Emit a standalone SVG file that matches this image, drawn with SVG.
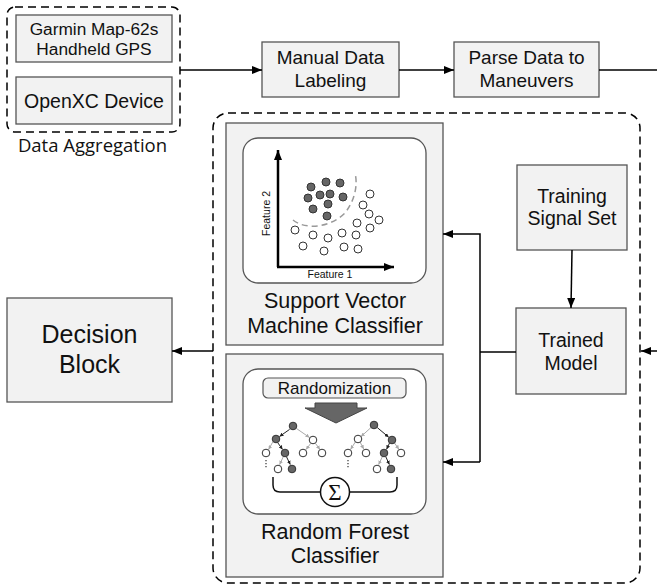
<svg xmlns="http://www.w3.org/2000/svg" width="657" height="586" viewBox="0 0 657 586">
<defs>
<style>
.box{fill:#f2f2f2;stroke:#555;stroke-width:1.3}
.inner{fill:#fff;stroke:#555;stroke-width:1.3}
.dash{fill:none;stroke:#000;stroke-width:1.5;stroke-dasharray:8,5}
.t{font-family:"Liberation Sans",Arial,sans-serif;fill:#111;text-anchor:middle}
.con{fill:none;stroke:#000;stroke-width:1.5}
.dk{fill:#666;stroke:#333;stroke-width:1}
.wt{fill:#fff;stroke:#333;stroke-width:1}
.eg{stroke:#aaa;stroke-width:1}
.ed{stroke:#222;stroke-width:1}
</style>
<marker id="ah" markerWidth="10" markerHeight="8" refX="10" refY="4" orient="auto" markerUnits="userSpaceOnUse"><path d="M0,0 L10,4 L0,8 Z" fill="#000"/></marker>
<marker id="ahg" markerWidth="4" markerHeight="4" refX="4" refY="2" orient="auto" markerUnits="userSpaceOnUse"><path d="M0,0 L4,2 L0,4 Z" fill="#aaa"/></marker>
<marker id="ahd" markerWidth="4" markerHeight="4" refX="4" refY="2" orient="auto" markerUnits="userSpaceOnUse"><path d="M0,0 L4,2 L0,4 Z" fill="#222"/></marker>
</defs>
<rect width="657" height="586" fill="#fff"/>

<g id="data-aggregation">
<rect class="dash" x="7" y="7" width="173" height="125" rx="8"/>
<text x="92.5" y="152" style="font-family:'Open Sans','Noto Sans',sans-serif;font-size:18.5px;fill:#111;text-anchor:middle">Data Aggregation</text>
</g>
<g id="garmin">
<rect class="box" x="16" y="15" width="156" height="47"/>
<text class="t" x="94" y="35" font-size="17.3">Garmin Map-62s</text>
<text class="t" x="94" y="55" font-size="17.3">Handheld GPS</text>
</g>
<g id="openxc">
<rect class="box" x="16" y="77" width="156" height="47"/>
<text class="t" x="94" y="108" font-size="19.5">OpenXC Device</text>
</g>
<g id="manual-labeling">
<rect class="box" x="262" y="42" width="137" height="55"/>
<text class="t" x="330.5" y="64" font-size="19">Manual Data</text>
<text class="t" x="330.5" y="87" font-size="19">Labeling</text>
</g>
<g id="parse-data">
<rect class="box" x="454" y="42" width="145" height="55"/>
<text class="t" x="526.5" y="64" font-size="19">Parse Data to</text>
<text class="t" x="526.5" y="87" font-size="19">Maneuvers</text>
</g>

<g id="classifier-group">
<rect class="dash" x="213" y="113" width="427" height="470" rx="15"/>
</g>

<g id="svm">
<rect class="box" x="226" y="123" width="217" height="222"/>
<rect class="inner" x="243" y="138" width="183" height="145" rx="15"/>
<path d="M293,220 C305,230 330,228 345,213 C355,200 358,185 355,173" fill="none" stroke="#999" stroke-width="1.5" stroke-dasharray="6,4"/>
<line x1="278" y1="267" x2="278" y2="150" stroke="#000" stroke-width="2.5" marker-end="url(#ah)"/>
<line x1="277" y1="267" x2="394" y2="267" stroke="#000" stroke-width="2.5" marker-end="url(#ah)"/>
<text class="t" x="330" y="278" font-size="10.5">Feature 1</text>
<text class="t" x="0" y="0" font-size="10.5" transform="translate(270,213.5) rotate(-90)">Feature 2</text>
<g class="dk">
<circle cx="311" cy="187" r="4"/><circle cx="326" cy="182" r="4"/><circle cx="340" cy="183" r="4"/>
<circle cx="308" cy="198" r="4"/><circle cx="320" cy="195" r="4"/><circle cx="330" cy="194" r="4"/>
<circle cx="343" cy="197" r="4"/><circle cx="313" cy="209" r="4"/><circle cx="328" cy="204" r="4"/>
<circle cx="327" cy="216" r="4"/>
</g>
<g class="wt">
<circle cx="370" cy="194" r="4"/><circle cx="363" cy="205" r="4"/><circle cx="369" cy="214" r="4"/>
<circle cx="379" cy="220" r="4"/><circle cx="370" cy="228" r="4"/><circle cx="357" cy="223" r="4"/>
<circle cx="295" cy="230" r="4"/><circle cx="313" cy="235" r="4"/><circle cx="328" cy="238" r="4"/>
<circle cx="342" cy="233" r="4"/><circle cx="356" cy="235" r="4"/><circle cx="303" cy="246" r="4"/>
<circle cx="324" cy="251" r="4"/><circle cx="344" cy="247" r="4"/><circle cx="358" cy="249" r="4"/>
</g>
<text class="t" x="335" y="308" font-size="21.5">Support Vector</text>
<text class="t" x="335" y="333" font-size="21.5">Machine Classifier</text>
</g>

<g id="random-forest">
<rect class="box" x="226" y="354" width="217" height="223"/>
<rect class="inner" x="243" y="369" width="183" height="145" rx="15"/>
<rect x="263" y="378" width="143" height="20" rx="5" fill="#f2f2f2" stroke="#555" stroke-width="1.2"/>
<text class="t" x="334.5" y="394" font-size="17">Randomization</text>
<polygon points="315,403 357,403 357,408 367,408 336,423 305,408 315,408" fill="#666" stroke="#444" stroke-width="1"/>
<g fill="none">
<line class="ed" x1="289.6" y1="429.4" x2="279.5" y2="436.5" marker-end="url(#ahd)"/>
<line class="eg" x1="296.6" y1="428.6" x2="309.5" y2="437.5" marker-end="url(#ahg)"/>
<line class="eg" x1="272.7" y1="442.1" x2="268.6" y2="449.5" marker-end="url(#ahg)"/>
<line class="ed" x1="277.5" y1="442.4" x2="282.5" y2="449.4" marker-end="url(#ahd)"/>
<line class="eg" x1="310.6" y1="443.6" x2="306" y2="449.5" marker-end="url(#ahg)"/>
<line class="eg" x1="315.6" y1="443.6" x2="320" y2="449.5" marker-end="url(#ahg)"/>
<line class="eg" x1="283.3" y1="456.7" x2="279.6" y2="464.6" marker-end="url(#ahg)"/>
<line class="ed" x1="286.5" y1="456.8" x2="290.3" y2="464.6" marker-end="url(#ahd)"/>
<line class="eg" x1="370.9" y1="427.6" x2="361" y2="436.6" marker-end="url(#ahg)"/>
<line class="ed" x1="377.3" y1="427.6" x2="388.7" y2="437.2" marker-end="url(#ahd)"/>
<line class="eg" x1="355.3" y1="442" x2="350.6" y2="449.4" marker-end="url(#ahg)"/>
<line class="eg" x1="360.2" y1="442.3" x2="363.7" y2="449" marker-end="url(#ahg)"/>
<line class="ed" x1="389.5" y1="443" x2="386.6" y2="449.3" marker-end="url(#ahd)"/>
<line class="eg" x1="394.5" y1="443" x2="398.9" y2="449.3" marker-end="url(#ahg)"/>
<line class="eg" x1="382.3" y1="456.8" x2="378.6" y2="464.6" marker-end="url(#ahg)"/>
<line class="ed" x1="385.8" y1="456.8" x2="389.4" y2="464.6" marker-end="url(#ahd)"/>
<line x1="266" y1="460" x2="266" y2="469" stroke="#333" stroke-width="1.2" stroke-dasharray="1.3,1.7"/>
<line x1="348" y1="460" x2="348" y2="469" stroke="#333" stroke-width="1.2" stroke-dasharray="1.3,1.7"/>
</g>
<g class="dk">
<circle cx="293" cy="426" r="3.8"/><circle cx="276" cy="439" r="3.8"/><circle cx="285" cy="453" r="3.8"/><circle cx="292" cy="469" r="3.8"/>
<circle cx="374" cy="425" r="3.8"/><circle cx="392" cy="440" r="3.8"/><circle cx="384" cy="453" r="3.8"/><circle cx="391" cy="469" r="3.8"/>
</g>
<g class="wt">
<circle cx="313" cy="440" r="3.8"/><circle cx="266" cy="453" r="3.8"/><circle cx="303" cy="453" r="3.8"/><circle cx="322" cy="453" r="3.8"/><circle cx="278" cy="469" r="3.8"/>
<circle cx="358" cy="439" r="3.8"/><circle cx="348" cy="453" r="3.8"/><circle cx="366" cy="453" r="3.8"/><circle cx="401" cy="453" r="3.8"/><circle cx="377" cy="469" r="3.8"/>
</g>
<path d="M273,477 L273,485 Q273,492 280,492 L320.5,492 M349.5,492 L390,492 Q397,492 397,485 L397,477" fill="none" stroke="#111" stroke-width="1.5"/>
<circle cx="335" cy="492" r="14.5" fill="#fff" stroke="#111" stroke-width="1.5"/>
<text x="335" y="500" style="font-family:'Liberation Serif','Times New Roman',serif;font-size:23px;fill:#111;text-anchor:middle">Σ</text>
<text class="t" x="335" y="539" font-size="21.5">Random Forest</text>
<text class="t" x="335" y="563" font-size="21.5">Classifier</text>
</g>

<g id="training-signal-set">
<rect class="box" x="517" y="165" width="110" height="85"/>
<text class="t" x="572" y="203" font-size="19.5">Training</text>
<text class="t" x="572" y="225" font-size="19.5">Signal Set</text>
</g>
<g id="trained-model">
<rect class="box" x="516" y="308" width="110" height="86"/>
<text class="t" x="571" y="347" font-size="19.5">Trained</text>
<text class="t" x="571" y="370" font-size="19.5">Model</text>
</g>
<g id="decision-block">
<rect class="box" x="7" y="298" width="165" height="104"/>
<text class="t" x="89.5" y="343" font-size="25">Decision</text>
<text class="t" x="89.5" y="373" font-size="25">Block</text>
</g>

<g id="connectors">
<line class="con" x1="180" y1="70" x2="262" y2="70" marker-end="url(#ah)"/>
<line class="con" x1="399" y1="70" x2="454" y2="70" marker-end="url(#ah)"/>
<line class="con" x1="599" y1="70" x2="657" y2="70"/>
<line class="con" x1="657" y1="351" x2="641" y2="351" marker-end="url(#ah)"/>
<line class="con" x1="572" y1="250" x2="571" y2="308" marker-end="url(#ah)"/>
<line class="con" x1="516" y1="352" x2="480" y2="352"/>
<polyline class="con" points="480,462 480,234 443,234" marker-end="url(#ah)"/>
<line class="con" x1="480" y1="462" x2="443" y2="462" marker-end="url(#ah)"/>
<line class="con" x1="213" y1="351" x2="172" y2="351" marker-end="url(#ah)"/>
</g>
</svg>
